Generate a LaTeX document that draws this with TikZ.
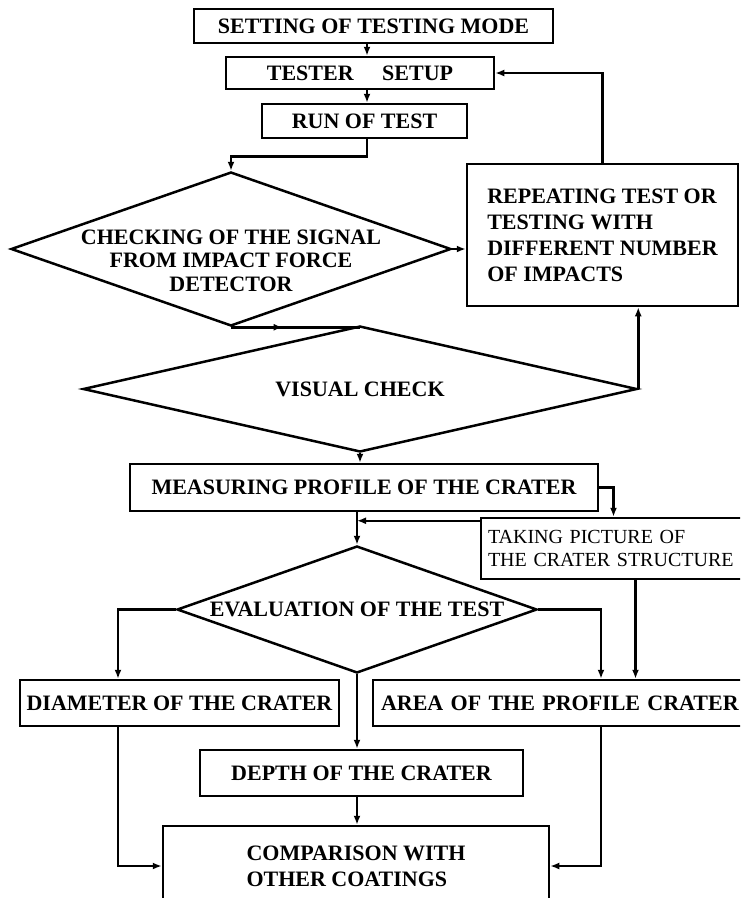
\documentclass[tikz,border=0pt]{standalone}
\usepackage{fontspec}
\setmainfont{Liberation Serif}
\usetikzlibrary{shapes.geometric,arrows.meta,decorations.markings}

\begin{document}
\begin{tikzpicture}[x=1pt, y=-1pt, >={Latex[length=9pt,width=7pt]}, line width=2.5pt,
    box/.style={draw, rectangle, line width=2.5pt, inner sep=0pt, align=center,
        font=\fontsize{22}{24}\selectfont\bfseries},
    decision/.style={draw, diamond, line width=2.5pt, aspect=2.8, inner sep=-20pt, align=center,
        font=\fontsize{22}{23.5}\selectfont\bfseries},
    note/.style={draw, rectangle, line width=2.5pt, inner ysep=0pt, align=left,
        font=\fontsize{20}{23}\selectfont}]
    % Frame (picture is cut at the right and bottom edge)
    \useasboundingbox (0,0) rectangle (740,898);
    \clip (0,0) rectangle (740,898);

    % Columns used by the connectors
    \coordinate (axis) at (367,0);
    \coordinate (lcol) at (118,0);
    \coordinate (rcol) at (601,0);

    % Test preparation
    \node[box, minimum width=359pt, minimum height=34pt] (mode) at (373.5,26) {SETTING OF TESTING MODE};
    \node[box, minimum width=268pt, minimum height=32pt] (setup) at (360,73) {TESTER\hspace{1.3em}SETUP};
    \node[box, minimum width=205pt, minimum height=34pt] (run) at (364.5,121) {RUN OF TEST};

    % Checks
    \node[decision, minimum width=440pt, minimum height=154pt] (signal) at (231,249)
        {\rule{0pt}{38pt}CHECKING OF THE SIGNAL\\FROM IMPACT FORCE\\DETECTOR};
    \node[decision, minimum width=554pt, minimum height=126pt] (visual) at (360,389) {VISUAL CHECK};
    \node[box, align=left, minimum width=271pt, minimum height=142pt,
        font=\fontsize{22}{26}\selectfont\bfseries] (repeat) at (602.5,235)
        {REPEATING TEST OR\\TESTING WITH\\DIFFERENT NUMBER\\OF IMPACTS};

    % Measuring
    \node[box, minimum width=468pt, minimum height=47pt] (measure) at (364,487.5) {MEASURING PROFILE OF THE CRATER};
    \node[note, text width=295pt, inner xsep=7pt, minimum height=61pt] (picture) at (635.5,548.5)
        {TAKING PICTURE OF\\THE CRATER STRUCTURE};
    \node[decision, minimum width=360pt, minimum height=127pt] (eval) at (357,609.5) {EVALUATION OF THE TEST};

    % Results
    \node[box, minimum width=319pt, minimum height=46pt] (diam) at (179.5,703) {DIAMETER OF THE CRATER};
    \node[box, align=left, text width=371pt, inner xsep=8pt, minimum height=46pt] (area) at (566.5,703)
        {AREA OF THE PROFILE CRATER};
    \node[box, minimum width=323pt, minimum height=46pt] (depth) at (361.5,773) {DEPTH OF THE CRATER};
    \node[box, align=left, minimum width=386pt, minimum height=80pt,
        font=\fontsize{22}{26}\selectfont\bfseries] (comp) at (356,866)
        {COMPARISON WITH\\OTHER COATINGS};

    % Connectors
    \draw[->] (axis |- mode.south) -- (axis |- setup.north);
    \draw[->] (axis |- setup.south) -- (axis |- run.north);
    \draw[->] (axis |- run.south) -- ++(0,17) -| (signal.north);
    \draw[->] (signal.east) -- (signal.east -| repeat.west);
    \draw[->] (repeat.north) |- (setup.east);
    \draw[postaction={decorate}, decoration={markings, mark=at position 0.4 with {\arrow{>}}}]
        (signal.south) -- (signal.south -| visual.north);
    \draw[->] (visual.east) -- (visual.east |- repeat.south);
    \draw[->] (visual.south) -- (visual.south |- measure.north);
    \draw[->] (measure.east) -| ([xshift=-22pt]picture.north);
    \draw[->] ([yshift=-4pt]picture.north west) -- ([yshift=-4pt]picture.north west -| eval.north);
    \draw[->] (eval.north |- measure.south) -- (eval.north);
    \draw[->] (eval.west) -| (lcol |- diam.north);
    \draw[->] (eval.east) -| (rcol |- area.north);
    \draw[->] (picture.south) -- (picture.south |- area.north);
    \draw[->] (eval.south) -- (eval.south |- depth.north);
    \draw[->] (eval.south |- depth.south) -- (eval.south |- comp.north);
    \draw[->] (lcol |- diam.south) |- (comp.west);
    \draw[->] (rcol |- area.south) |- (comp.east);
\end{tikzpicture}
\end{document}
